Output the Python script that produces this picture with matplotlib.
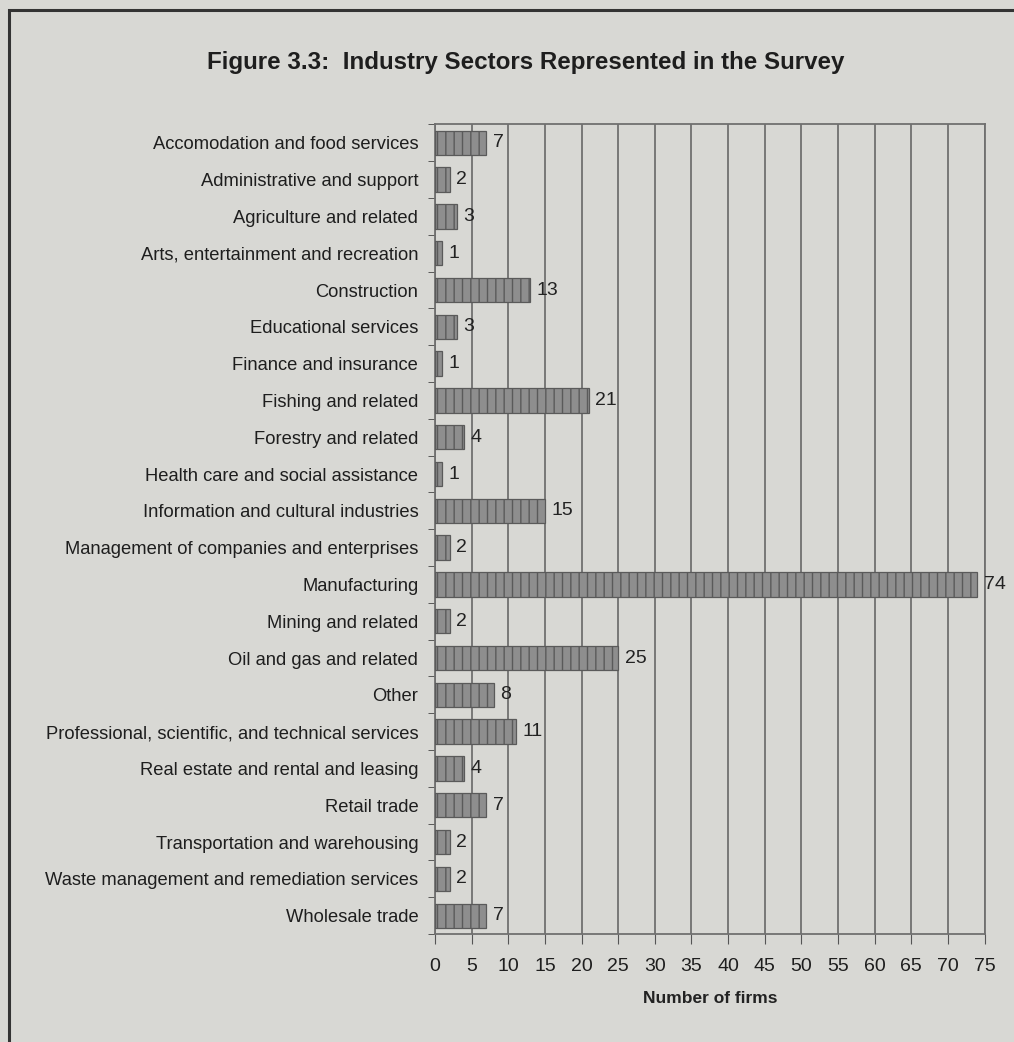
import numpy as np
import matplotlib.pyplot as plt
from matplotlib.patches import Rectangle

# Survey counts per industry sector
sectors = [
    "Accomodation and food services",
    "Administrative and support",
    "Agriculture and related",
    "Arts, entertainment and recreation",
    "Construction",
    "Educational services",
    "Finance and insurance",
    "Fishing and related",
    "Forestry and related",
    "Health care and social assistance",
    "Information and cultural industries",
    "Management of companies and enterprises",
    "Manufacturing",
    "Mining and related",
    "Oil and gas and related",
    "Other",
    "Professional, scientific, and technical services",
    "Real estate and rental and leasing",
    "Retail trade",
    "Transportation and warehousing",
    "Waste management and remediation services",
    "Wholesale trade",
]
firms = [7, 2, 3, 1, 13, 3, 1, 21, 4, 1, 15, 2, 74, 2, 25, 8, 11, 4, 7, 2, 2, 7]
xticks = list(range(0, 80, 5))

plt.rcParams['font.family'] = ['Liberation Sans', 'DejaVu Sans']
paper = '#d8d8d4'

fig = plt.figure(figsize=(10.14, 10.42), dpi=100, facecolor=paper)
ax = fig.add_axes([0.429, 0.1036, 0.542, 0.777], facecolor=paper)

y = np.arange(len(sectors))
plt.rcParams['hatch.color'] = '#6a6a6a'
plt.rcParams['hatch.linewidth'] = 1.0
ax.barh(y, firms, height=0.66, color='#8e8e8e', edgecolor='#5a5a5a',
        linewidth=0.9, hatch='||', zorder=3)

for yi, v in zip(y, firms):
    ax.text(v + 0.9, yi, str(v), va='center', ha='left', fontsize=14,
            color='#222222', zorder=4)

ax.set_ylim(len(sectors) - 0.5, -0.5)
ax.set_xlim(0, 75)
ax.set_yticks(y)
ax.set_yticklabels(sectors, fontsize=13.2, color='#1e1e1e')
ax.set_yticks(np.arange(-0.5, len(sectors), 1), minor=True)
ax.tick_params(axis='y', which='major', length=0, pad=12)
ax.tick_params(axis='y', which='minor', length=5, color='#444444')
ax.set_xticks(xticks)
ax.set_xticklabels([str(t) for t in xticks], fontsize=14, color='#1e1e1e')
ax.tick_params(axis='x', length=7, color='#555555', pad=10)

ax.grid(axis='x', color='#707070', linewidth=1.3, zorder=1)
for side in ax.spines.values():
    side.set_color('#707070')
    side.set_linewidth(1.3)

ax.set_xlabel('Number of firms', fontsize=12.5, fontweight='bold',
              color='#222222', labelpad=12)

fig.text(0.518, 0.94, 'Figure 3.3:  Industry Sectors Represented in the Survey',
         ha='center', va='center', fontsize=17.4, fontweight='bold', color='#1e1e1e')

# page frame around the figure
fig.patches.append(Rectangle((9 / 1014, -0.05), 1.2, 1.05 - 10 / 1042,
                             transform=fig.transFigure, fill=False,
                             edgecolor='#333333', linewidth=2.2))

fig.savefig('out.png', dpi=100, facecolor=paper)
